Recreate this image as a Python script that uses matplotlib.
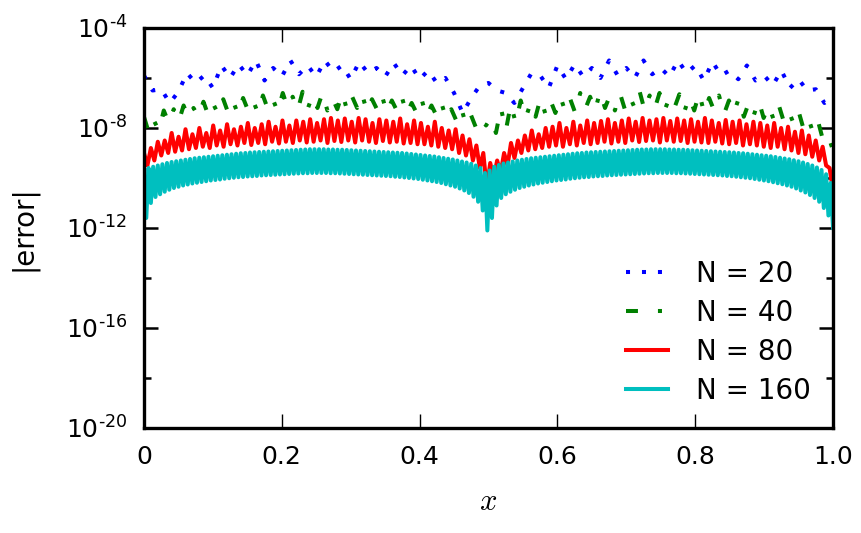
import numpy as np
import matplotlib
matplotlib.use("Agg")
import matplotlib.pyplot as plt
from matplotlib.ticker import NullFormatter

# values are log10(|error|)
# N = 20, one value per point
blue_vals = [-5.9, -6.5, -6.45, -7.0, -6.55, -5.8, -6.2, -5.9, -6.4, -5.5,
             -6.0, -5.45, -5.9, -5.3, -6.1, -5.6, -5.95, -5.3, -5.85, -5.5,
             -5.95, -5.3, -5.75, -5.5, -6.05, -5.35, -5.8, -5.6, -5.95, -5.4,
             -5.9, -5.5, -6.05, -5.7, -6.2, -6.0, -6.6, -7.4, -6.8, -6.3,
             -6.2, -6.5, -6.6, -7.0, -6.4, -5.8, -5.9, -6.4, -5.5, -6.05,
             -5.45, -5.95, -5.6, -6.0, -5.3, -5.9, -5.6, -6.0, -5.3, -5.85,
             -5.6, -5.95, -5.3, -5.8, -5.5, -6.1, -5.35, -5.9, -5.7, -6.05,
             -5.5, -6.1, -5.9, -6.3, -5.7, -6.4, -6.05, -6.5, -6.45, -7.0,
             -6.76]

# N = 40, upper / lower tips of the wiggles
green_top = [-7.55, -7.7, -7.3, -7.25, -7.1, -7.2, -6.95, -7.05, -6.85, -6.95,
             -6.8, -6.9, -6.7, -6.85, -6.6, -6.75, -6.55, -6.7, -6.6, -6.8,
             -6.6, -6.75, -6.65, -6.85, -6.7, -6.9, -6.75, -7.0, -6.85, -7.1,
             -7.0, -7.25, -7.2, -7.5, -7.6,
             -7.6, -7.2, -7.05, -6.9, -7.0, -6.8, -6.9, -6.75, -6.85, -6.6,
             -6.75, -6.55, -6.7, -6.6, -6.75, -6.55, -6.7, -6.6, -6.8, -6.65,
             -6.75, -6.6, -6.8, -6.7, -6.9, -6.8, -7.0, -6.9, -7.1, -7.05,
             -7.3, -7.3, -7.6, -7.75, -8.3]
green_bot = [-8.2, -8.1, -7.8, -7.75, -7.6, -7.55, -7.5, -7.45, -7.4, -7.45,
             -7.3, -7.4, -7.25, -7.35, -7.2, -7.3, -7.25, -7.2, -7.3, -7.25,
             -7.3, -7.2, -7.35, -7.25, -7.4, -7.3, -7.45, -7.4, -7.55, -7.5,
             -7.65, -7.7, -7.9, -8.0, -7.9,
             -8.2, -8.1, -7.8, -7.6, -7.55, -7.45, -7.4, -7.35, -7.4, -7.25,
             -7.3, -7.2, -7.3, -7.25, -7.2, -7.3, -7.25, -7.3, -7.2, -7.35,
             -7.3, -7.4, -7.3, -7.45, -7.4, -7.55, -7.5, -7.6, -7.65, -7.7,
             -7.8, -8.0, -8.2, -8.5, -8.9]

# N = 80
red_top = [-9.0, -8.8, -8.55, -8.5, -8.2, -8.35, -8.05, -8.25, -8.0, -8.2,
           -7.9, -8.1, -7.85, -8.05, -7.95, -7.8, -8.0, -7.85, -7.75, -7.95,
           -7.7, -7.9, -7.7, -7.75, -7.65, -7.8, -7.65, -7.6, -7.7, -7.62,
           -7.75, -7.6, -7.65, -7.8, -7.65, -7.7, -7.75, -7.62, -7.85, -7.7,
           -7.8, -7.95, -7.75, -8.0, -8.1, -8.05, -8.3, -8.45, -8.7, -9.0,
           -9.4, -9.3, -9.0, -8.6, -8.5, -8.3, -8.1, -8.25, -8.0, -7.95,
           -7.8, -8.0, -7.75, -7.9, -7.7, -7.8, -7.72, -7.65, -7.8, -7.7,
           -7.62, -7.75, -7.6, -7.7, -7.65, -7.6, -7.72, -7.62, -7.7, -7.65,
           -7.75, -7.6, -7.7, -7.8, -7.68, -7.75, -7.7, -7.85, -7.75, -7.8,
           -7.9, -7.8, -8.0, -7.95, -8.15, -8.1, -8.3, -8.5, -8.75, -9.6]
red_bot = [-9.5, -9.3, -9.1, -9.0, -8.95, -8.9, -8.85, -8.8, -8.75, -8.8,
           -8.7, -8.75, -8.65, -8.7, -8.6, -8.68, -8.6, -8.65, -8.55, -8.62,
           -8.55, -8.6, -8.5, -8.58, -8.55, -8.5, -8.6, -8.52, -8.56, -8.5,
           -8.58, -8.5, -8.55, -8.6, -8.52, -8.58, -8.55, -8.62, -8.6, -8.65,
           -8.65, -8.7, -8.75, -8.8, -8.85, -9.0, -9.1, -9.3, -9.6, -10.4,
           -10.0, -9.8, -9.5, -9.2, -9.0, -8.9, -8.85, -8.8, -8.75, -8.7,
           -8.75, -8.65, -8.7, -8.6, -8.65, -8.6, -8.55, -8.62, -8.55, -8.6,
           -8.5, -8.56, -8.52, -8.5, -8.58, -8.5, -8.55, -8.52, -8.6, -8.55,
           -8.58, -8.6, -8.55, -8.62, -8.65, -8.6, -8.7, -8.65, -8.7, -8.75,
           -8.8, -8.75, -8.85, -8.9, -9.0, -9.05, -9.15, -9.3, -9.5, -10.5]

# N = 160
cyan_top = [-9.7, -9.6, -9.55, -9.5, -9.45, -9.4, -9.36, -9.33, -9.3, -9.27,
            -9.24, -9.21, -9.19, -9.17, -9.15, -9.13, -9.11, -9.09, -9.07, -9.05,
            -9.03, -9.01, -9.0, -8.98, -8.97, -8.96, -8.95, -8.94, -8.93, -8.92,
            -8.91, -8.9, -8.89, -8.88, -8.87, -8.86, -8.85, -8.85, -8.85, -8.85,
            -8.86, -8.86, -8.87, -8.87, -8.88, -8.89, -8.9, -8.91, -8.92, -8.93,
            -8.94, -8.95, -8.96, -8.97, -8.98, -8.99, -9.0, -9.02, -9.04, -9.06,
            -9.08, -9.1, -9.12, -9.14, -9.17, -9.2, -9.23, -9.26, -9.3, -9.34,
            -9.38, -9.43, -9.5, -9.6, -9.8,
            -9.7, -9.55, -9.48, -9.42, -9.38, -9.34, -9.3, -9.27, -9.24, -9.21,
            -9.19, -9.17, -9.15, -9.13, -9.11, -9.09, -9.07, -9.05, -9.03, -9.01,
            -9.0, -8.98, -8.97, -8.96, -8.95, -8.94, -8.93, -8.92, -8.91, -8.9,
            -8.89, -8.88, -8.87, -8.86, -8.86, -8.85, -8.85, -8.85, -8.85, -8.86,
            -8.86, -8.87, -8.87, -8.88, -8.89, -8.9, -8.91, -8.92, -8.93, -8.94,
            -8.95, -8.96, -8.97, -8.98, -9.0, -9.01, -9.03, -9.05, -9.07, -9.09,
            -9.11, -9.13, -9.16, -9.19, -9.22, -9.25, -9.29, -9.33, -9.38, -9.44,
            -9.5, -9.58, -9.68, -9.85, -10.2]
cyan_bot = [-11.6, -11.0, -10.76, -10.65, -10.55, -10.47, -10.4, -10.35, -10.3, -10.26,
            -10.22, -10.19, -10.16, -10.13, -10.1, -10.08, -10.06, -10.03, -10.01, -9.99,
            -9.97, -9.96, -9.94, -9.93, -9.92, -9.9, -9.89, -9.88, -9.87, -9.86,
            -9.85, -9.84, -9.83, -9.82, -9.81, -9.81, -9.8, -9.8, -9.8, -9.8,
            -9.81, -9.81, -9.82, -9.83, -9.84, -9.85, -9.86, -9.87, -9.88, -9.89,
            -9.9, -9.91, -9.92, -9.93, -9.95, -9.96, -9.98, -10.0, -10.02, -10.04,
            -10.07, -10.1, -10.13, -10.16, -10.2, -10.25, -10.3, -10.35, -10.42, -10.5,
            -10.6, -10.75, -10.95, -11.3, -12.1,
            -11.6, -11.1, -10.8, -10.65, -10.55, -10.47, -10.4, -10.35, -10.3, -10.26,
            -10.22, -10.19, -10.16, -10.13, -10.1, -10.08, -10.06, -10.03, -10.01, -9.99,
            -9.97, -9.96, -9.94, -9.93, -9.92, -9.9, -9.89, -9.88, -9.87, -9.86,
            -9.85, -9.84, -9.83, -9.82, -9.81, -9.81, -9.8, -9.8, -9.8, -9.8,
            -9.81, -9.81, -9.82, -9.83, -9.84, -9.85, -9.86, -9.87, -9.88, -9.89,
            -9.9, -9.92, -9.93, -9.95, -9.97, -9.99, -10.01, -10.04, -10.07, -10.1,
            -10.13, -10.17, -10.21, -10.25, -10.3, -10.35, -10.42, -10.5, -10.58, -10.68,
            -10.8, -10.95, -11.2, -11.5, -12.0]

labels = ["N = 20", "N = 40", "N = 80", "N = 160"]
x_ticks = [0, 0.2, 0.4, 0.6, 0.8, 1.0]
x_ticklabels = ["0", "0.2", "0.4", "0.6", "0.8", "1.0"]
y_major = [1e-20, 1e-16, 1e-12, 1e-8, 1e-4]
y_ticklabels = [r"$\mathdefault{10^{‐20}}$", r"$\mathdefault{10^{‐16}}$",
                r"$\mathdefault{10^{‐12}}$", r"$\mathdefault{10^{‐8}}$",
                r"$\mathdefault{10^{‐4}}$"]
y_minor = [1e-18, 1e-14, 1e-10, 1e-6]

plt.rcParams['lines.scale_dashes'] = False
plt.rcParams['axes.unicode_minus'] = False
plt.rcParams['mathtext.fontset'] = 'cm'


def zigzag(top, bot):
    # alternate upper and lower tips along x
    y = 10.0 ** np.column_stack([top, bot]).ravel()
    x = np.linspace(0, 1, len(y))
    return x, y


fig = plt.figure(figsize=(8.62, 5.33), dpi=100)
ax = fig.add_axes([0.167, 0.197, 0.7994, 0.7505])

lw = 2.9
y = 10.0 ** np.array(blue_vals)
x = np.linspace(0, 1, len(y))
ax.plot(x, y, color='b', lw=lw, ls=(0, (2.9, 8.6)), label=labels[0])
x, y = zigzag(green_top, green_bot)
ax.plot(x, y, color=(0, 0.5, 0), lw=lw, ls=(0, (8.6, 14.4, 2.9, 14.4)), label=labels[1])
x, y = zigzag(red_top, red_bot)
ax.plot(x, y, color='r', lw=lw, label=labels[2])
x, y = zigzag(cyan_top, cyan_bot)
ax.plot(x, y, color=(0, 0.75, 0.75), lw=lw, label=labels[3])

ax.set_yscale('log')
ax.set_xlim(0, 1)
ax.set_ylim(1e-20, 1e-4)
ax.set_xticks(x_ticks)
ax.set_xticklabels(x_ticklabels)
ax.set_yticks(y_major)
ax.set_yticklabels(y_ticklabels)
ax.set_yticks(y_minor, minor=True)
ax.yaxis.set_minor_formatter(NullFormatter())
ax.set_xticks([], minor=True)

for s in ax.spines.values():
    s.set_linewidth(2.4)
ax.tick_params(which='both', direction='in', top=True, right=True)
ax.tick_params(axis='x', which='major', length=10, width=1, pad=12, labelsize=18)
ax.tick_params(axis='y', which='major', length=10, width=1.8, pad=12, labelsize=18)
ax.tick_params(axis='y', which='minor', length=5, width=1.8)

ax.set_xlabel('$x$', fontsize=22, labelpad=13)
ax.set_ylabel('|error|', fontsize=20, labelpad=20)

ax.legend(loc='lower right', bbox_to_anchor=(1.004, -0.005), frameon=False,
          fontsize=20, handlelength=1.5, handletextpad=1.0, labelspacing=0.4)

fig.savefig('out.png', dpi=100)
